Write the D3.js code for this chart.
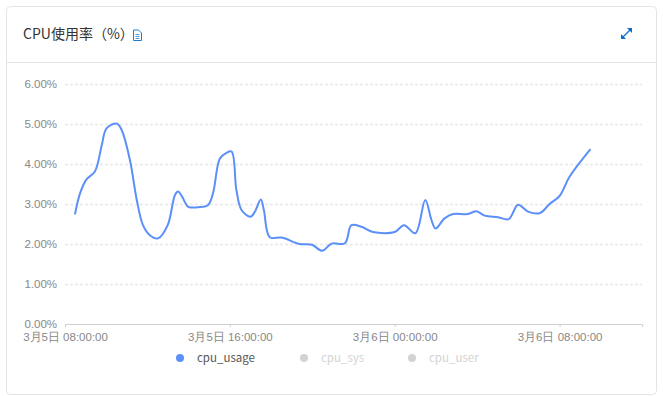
<!DOCTYPE html>
<html>
<head>
<meta charset="utf-8">
<script src="https://cdn.jsdelivr.net/npm/d3@7"></script>
<style>
html, body { margin: 0; padding: 0; background: #fff; }
svg { display: block; font-family: "Noto Sans CJK SC", "Noto Sans", sans-serif; }
.tick text { font-size: 11.5px; fill: #888; }
</style>
</head>
<body>
<svg id="chart"></svg>
<script>
const width = 663, height = 396;
const marginLeft = 65, marginRight = 21, marginTop = 84, marginBottom = 72;

const title = "CPU使用率（%）";

// hours after 3月5日 08:00
const hours = [0.48, 0.73, 1.05, 1.45, 1.78, 2.02, 2.51, 2.75, 3.15, 3.48, 3.78, 4.12, 4.51, 4.99, 5.33, 5.49,
    5.66, 5.98, 6.45, 6.93, 7.18, 7.52, 7.81, 8.08, 8.32, 8.57, 9.0, 9.21, 9.5, 9.65, 9.94, 10.51,
    11.39, 11.99, 12.49, 12.93, 13.58, 13.9, 14.39, 14.95, 16.0, 16.45, 17.0, 17.49, 17.78, 17.99, 18.42, 18.83,
    19.55, 19.96, 20.36, 21.01, 21.53, 21.98, 22.46, 23.03, 23.52, 24.0, 24.48, 25.5];
const cpuUsage = [2.74, 3.27, 3.62, 3.81, 4.47, 4.89, 5.01, 4.85, 4.10, 3.10, 2.47, 2.22, 2.14, 2.47, 3.22, 3.31,
    3.20, 2.93, 2.92, 2.97, 3.27, 4.14, 4.27, 4.31, 3.35, 2.85, 2.68, 2.81, 3.11, 2.85, 2.17, 2.16,
    2.00, 1.98, 1.83, 2.01, 2.02, 2.47, 2.43, 2.30, 2.30, 2.47, 2.27, 3.10, 2.60, 2.39, 2.64, 2.75,
    2.75, 2.82, 2.71, 2.67, 2.62, 2.98, 2.81, 2.77, 3.00, 3.20, 3.68, 4.37];

const yTicks = [0, 1, 2, 3, 4, 5, 6];
const xTicks = [0, 8, 16, 24];
const legendNames = ["cpu_usage", "cpu_sys", "cpu_user"];
const legendColors = ["#5b8ff9", "#d3d3d3", "#d3d3d3"];
const legendX = [180, 304, 412];

const start = new Date(2021, 2, 5, 8, 0, 0);
const toDate = h => d3.timeMinute.offset(start, Math.round(h * 60));
const data = hours.map((h, i) => [toDate(h), cpuUsage[i]]);

const x = d3.scaleTime()
    .domain([start, toDate(28)])
    .range([marginLeft, width - marginRight]);
const y = d3.scaleLinear()
    .domain([0, 6])
    .range([height - marginBottom, marginTop]);

const svg = d3.select("#chart")
    .attr("width", width)
    .attr("height", height);

// card
svg.append("rect")
    .attr("x", 6.5).attr("y", 6.5)
    .attr("width", 650).attr("height", 388)
    .attr("rx", 4)
    .attr("fill", "#fff")
    .attr("stroke", "#e4e4e4");
svg.append("line")
    .attr("x1", 7).attr("x2", 656)
    .attr("y1", 62.5).attr("y2", 62.5)
    .attr("stroke", "#e4e4e4");

svg.append("text")
    .attr("x", 23).attr("y", 39)
    .attr("font-size", 14)
    .attr("fill", "#333")
    .text(title);

// doc icon
const doc = svg.append("g")
    .attr("transform", "translate(133, 29.5)")
    .attr("fill", "none")
    .attr("stroke", "#1a7fd4");
doc.append("path").attr("d", "M0.5 0.5H5.5L8.5 3.5V11H0.5Z");
doc.append("path").attr("d", "M2.5 5H6.5M2.5 7H6.5M2.5 9H6.5").attr("stroke-width", 0.8);

// expand icon
const expand = svg.append("g")
    .attr("transform", "translate(621, 28)")
    .attr("fill", "#0a6fd0");
expand.append("path").attr("d", "M6 0H11V5Z");
expand.append("path").attr("d", "M0 6V11H5Z");
expand.append("line")
    .attr("x1", 2).attr("y1", 9).attr("x2", 9).attr("y2", 2)
    .attr("stroke", "#0a6fd0").attr("stroke-width", 1.2);

// y axis with dashed grid
svg.append("g")
    .attr("transform", `translate(${marginLeft}, 0)`)
    .call(d3.axisLeft(y)
        .tickValues(yTicks)
        .tickFormat(d => d.toFixed(2) + "%")
        .tickSize(0)
        .tickPadding(8))
    .call(g => g.select(".domain").remove())
    .call(g => g.selectAll(".tick line")
        .filter(d => d > 0)
        .attr("x2", width - marginLeft - marginRight)
        .attr("stroke", "#ececec")
        .attr("stroke-width", 2)
        .attr("stroke-dasharray", "3,2"));

// x axis
svg.append("g")
    .attr("transform", `translate(0, ${height - marginBottom})`)
    .call(d3.axisBottom(x)
        .tickValues(xTicks.map(toDate))
        .tickFormat(d3.timeFormat("%-m月%-d日 %H:%M:%S"))
        .tickSizeOuter(0)
        .tickSize(3)
        .tickPadding(6))
    .call(g => g.select(".domain").attr("stroke", "#d0d0d0"))
    .call(g => g.selectAll(".tick line").attr("stroke", "#d0d0d0"));

const line = d3.line()
    .curve(d3.curveCatmullRom.alpha(0.5))
    .x(d => x(d[0]))
    .y(d => y(d[1]));

svg.append("path")
    .datum(data)
    .attr("fill", "none")
    .attr("stroke", "#5b8ff9")
    .attr("stroke-width", 2)
    .attr("d", line);

// legend
const legend = svg.append("g")
    .selectAll("g")
    .data(legendNames)
    .join("g")
    .attr("transform", (d, i) => `translate(${legendX[i]}, 358)`);
legend.append("circle")
    .attr("r", 4)
    .attr("fill", (d, i) => legendColors[i]);
legend.append("text")
    .attr("x", 17)
    .attr("y", 4)
    .attr("font-size", 11.5)
    .attr("fill", (d, i) => i === 0 ? "#555" : "#d3d3d3")
    .text(d => d);
</script>
</body>
</html>
